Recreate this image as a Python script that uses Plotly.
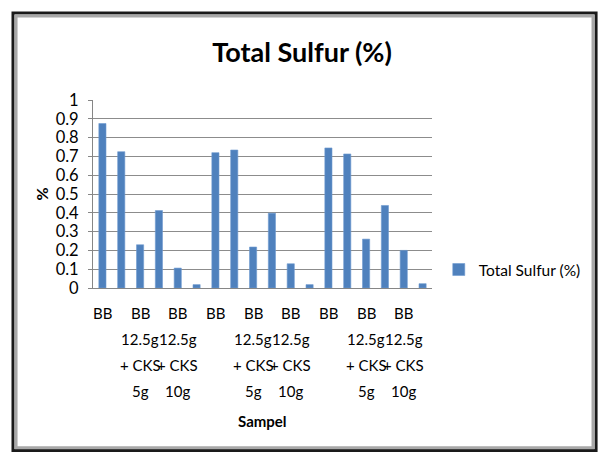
import plotly.graph_objects as go

# 18 samples, Excel showed only every second label
samples = ['BB', 'BB', 'BB 12.5g + CKS 5g', 'BB 12.5g + CKS 5g', 'BB 12.5g + CKS 10g', 'BB 12.5g + CKS 10g',
           'BB', 'BB', 'BB 12.5g + CKS 5g', 'BB 12.5g + CKS 5g', 'BB 12.5g + CKS 10g', 'BB 12.5g + CKS 10g',
           'BB', 'BB', 'BB 12.5g + CKS 5g', 'BB 12.5g + CKS 5g', 'BB 12.5g + CKS 10g', 'BB 12.5g + CKS 10g']
total_sulfur = [0.875, 0.725, 0.23, 0.412, 0.106, 0.018,
                0.72, 0.734, 0.218, 0.398, 0.129, 0.018,
                0.745, 0.713, 0.26, 0.439, 0.2, 0.023]
label_lines = {'BB': ['BB'],
               'BB 12.5g + CKS 5g': ['BB', '12.5g', '+ CKS', '5g'],
               'BB 12.5g + CKS 10g': ['BB', '12.5g', '+ CKS', '10g']}
y_ticks = [0, 0.1, 0.2, 0.3, 0.4, 0.5, 0.6, 0.7, 0.8, 0.9, 1]

FONT = 'Lato, sans-serif'
BLUE = '#4F81BD'

fig = go.Figure()
fig.add_trace(go.Bar(x=list(range(len(samples))), y=total_sulfur, name='Total Sulfur (%)',
                     marker=dict(color=BLUE, line=dict(color='#6f9bd0', width=0.6))))

# x tick labels drawn as stacked annotations (Excel-like wide line spacing)
annotations = []
for i in range(0, len(samples), 2):
    for k, line in enumerate(label_lines[samples[i]]):
        annotations.append(dict(x=i, y=0, xref='x', yref='paper', text=line, showarrow=False,
                                yanchor='middle', yshift=-25 - 26 * k,
                                font=dict(family=FONT, size=15, color='#000')))
annotations.append(dict(x=0.5, y=-0.707, xref='paper', yref='paper', text='<b>Sampel</b>',
                        showarrow=False, yanchor='middle', xanchor='center',
                        font=dict(family=FONT, size=15, color='#000')))

# page body adds 8px margin, so figure is 8px smaller and shifted
fig.update_layout(
    width=599, height=449,
    margin=dict(l=85, r=175, t=92, b=169),
    paper_bgcolor='white', plot_bgcolor='white',
    font=dict(family=FONT, size=15, color='#000'),
    title=dict(text='<b>Total Sulfur (%)</b>', x=0.491, xanchor='center', y=0.9, yanchor='middle',
               yref='container', font=dict(family=FONT, size=27, color='#000')),
    bargap=0.62,
    showlegend=True,
    legend=dict(x=1.02, y=0.096, xanchor='left', yanchor='middle', font=dict(size=15.5),
                itemwidth=30, bgcolor='rgba(0,0,0,0)'),
    annotations=annotations,
    shapes=[
        dict(type='rect', xref='paper', yref='paper', x0=-0.236, x1=1.484, y0=-0.865, y1=1.463,
             line=dict(color='#1a1a1a', width=3)),
        dict(type='rect', xref='paper', yref='paper', x0=-0.227, x1=1.475, y0=-0.85, y1=1.447,
             line=dict(color='#a8a8a8', width=3)),
    ],
)
fig.update_xaxes(range=[-0.5, len(samples) - 0.5], showticklabels=False, showgrid=False,
                 showline=True, linecolor='#868686', linewidth=1, ticks='', zeroline=False)
fig.update_yaxes(range=[0, 1], tickvals=y_ticks, ticktext=[str(v) for v in y_ticks],
                 tickfont=dict(size=16.5), ticklabelstandoff=6,
                 showgrid=True, gridcolor='#8c8c8c', gridwidth=1, showline=True, linecolor='#868686',
                 ticks='outside', ticklen=4, tickcolor='#868686', zeroline=False,
                 title=dict(text='<b>%</b>', standoff=3, font=dict(size=16)))

fig.write_html('out.html')
